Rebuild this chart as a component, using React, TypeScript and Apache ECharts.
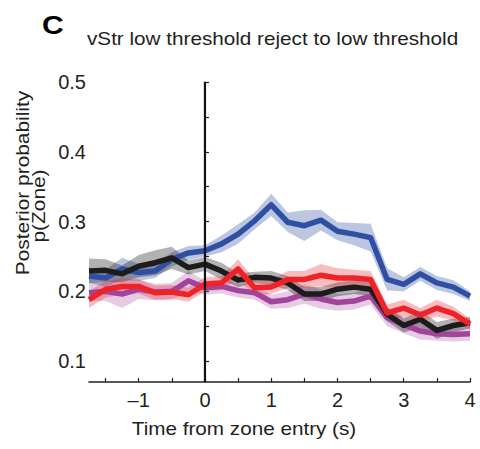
import React, { useEffect, useRef } from "react";
import * as echarts from "echarts";

const times = [-1.75, -1.5, -1.25, -1, -0.75, -0.5, -0.25, 0, 0.25, 0.5, 0.75, 1, 1.25, 1.5, 1.75, 2, 2.25, 2.5, 2.75, 3, 3.25, 3.5, 3.75, 4];

const blueMean = [0.222, 0.219, 0.232, 0.227, 0.229, 0.246, 0.255, 0.258, 0.268, 0.282, 0.301, 0.324, 0.299, 0.294, 0.302, 0.286, 0.282, 0.277, 0.217, 0.21, 0.225, 0.212, 0.206, 0.193];
const blueErr = [0.01, 0.012, 0.016, 0.012, 0.01, 0.01, 0.01, 0.008, 0.012, 0.014, 0.012, 0.016, 0.014, 0.022, 0.015, 0.013, 0.016, 0.02, 0.016, 0.01, 0.01, 0.01, 0.01, 0.007];

const blackMean = [0.229, 0.23, 0.225, 0.236, 0.241, 0.248, 0.234, 0.239, 0.229, 0.216, 0.22, 0.219, 0.212, 0.196, 0.196, 0.203, 0.206, 0.203, 0.167, 0.151, 0.16, 0.144, 0.151, 0.155];
const blackErr = [0.018, 0.016, 0.012, 0.016, 0.018, 0.016, 0.01, 0.01, 0.012, 0.01, 0.008, 0.01, 0.01, 0.01, 0.01, 0.01, 0.01, 0.01, 0.01, 0.01, 0.012, 0.012, 0.01, 0.008];

const redMean = [0.188, 0.203, 0.207, 0.207, 0.198, 0.199, 0.195, 0.21, 0.212, 0.232, 0.205, 0.206, 0.217, 0.217, 0.223, 0.219, 0.219, 0.217, 0.169, 0.176, 0.166, 0.176, 0.168, 0.153];
const redErr = [0.012, 0.012, 0.012, 0.01, 0.01, 0.01, 0.01, 0.01, 0.01, 0.014, 0.012, 0.01, 0.012, 0.012, 0.016, 0.014, 0.012, 0.012, 0.012, 0.012, 0.01, 0.012, 0.01, 0.008];

const magentaMean = [0.198, 0.2, 0.196, 0.203, 0.199, 0.2, 0.215, 0.205, 0.207, 0.201, 0.198, 0.185, 0.188, 0.196, 0.189, 0.184, 0.186, 0.193, 0.162, 0.152, 0.143, 0.139, 0.138, 0.139];
const magentaErr = [0.012, 0.014, 0.02, 0.014, 0.012, 0.012, 0.014, 0.01, 0.01, 0.01, 0.01, 0.01, 0.012, 0.014, 0.014, 0.012, 0.012, 0.012, 0.012, 0.012, 0.012, 0.01, 0.01, 0.01];

const xTicks = [-1.5, -1, -0.5, 0, 0.5, 1, 1.5, 2, 2.5, 3, 3.5, 4];
const xLabels = [-1, 0, 1, 2, 3, 4];
const yTicks = [0.1, 0.15, 0.2, 0.25, 0.3, 0.35, 0.4, 0.45, 0.5];
const yLabels = [0.1, 0.2, 0.3, 0.4, 0.5];

const title = "vStr low threshold reject to low threshold";
const panel = "C";
const xName = "Time from zone entry (s)";
const yName1 = "Posterior probability";
const yName2 = "p(Zone)";

const groups = [
  { name: "magenta", mean: magentaMean, err: magentaErr, line: "#a3449b", band: "rgba(163,68,155,0.28)" },
  { name: "blue", mean: blueMean, err: blueErr, line: "#2f4fa3", band: "rgba(47,79,163,0.32)" },
  { name: "black", mean: blackMean, err: blackErr, line: "#1c1c1c", band: "rgba(0,0,0,0.3)" },
  { name: "red", mean: redMean, err: redErr, line: "#ee232a", band: "rgba(238,35,42,0.3)" },
];

const FONT = "Liberation Sans, Arial, sans-serif";

export default function App() {
  const ref = useRef<HTMLDivElement>(null);
  useEffect(() => {
    document.body.style.margin = "0";
    if (!ref.current) return;
    const chart = echarts.init(ref.current, null, { renderer: "svg" });
    const series: any[] = [];
    groups.forEach((g) => {
      const bandData = times.map((t, i) => [t, g.mean[i] - g.err[i], g.mean[i] + g.err[i]]);
      series.push({
        type: "custom",
        data: bandData,
        encode: { x: 0, y: [1, 2] },
        silent: true,
        z: 1,
        renderItem: (params: any, api: any) => {
          if (params.dataIndex !== 0) return null;
          const upper = bandData.map((d) => api.coord([d[0], d[2]]));
          const lower = bandData.map((d) => api.coord([d[0], d[1]])).reverse();
          return {
            type: "polygon",
            shape: { points: upper.concat(lower) },
            style: { fill: g.band, stroke: "none" },
          };
        },
      });
    });
    groups.forEach((g) => {
      series.push({
        type: "line",
        data: times.map((t, i) => [t, g.mean[i]]),
        symbol: "none",
        lineStyle: { color: g.line, width: 5.5, join: "round" },
        silent: true,
        z: 2,
      });
    });
    series.push({
      type: "line",
      data: [[0, 0.07], [0, 0.5]],
      symbol: "none",
      lineStyle: { color: "#111", width: 2.2 },
      silent: true,
      z: 3,
    });

    chart.setOption({
      animation: false,
      grid: { left: 89, right: 10, top: 82, bottom: 67 },
      xAxis: {
        type: "value",
        min: -1.75,
        max: 4,
        axisLine: { lineStyle: { color: "#231f20", width: 1.5 } },
        axisTick: { inside: true, length: 4, customValues: xTicks, lineStyle: { color: "#231f20", width: 1.2 } },
        axisLabel: {
          customValues: xLabels,
          formatter: (v: number) => (v < 0 ? "\u2013" + Math.abs(v) : String(v)),
          fontSize: 20,
          fontFamily: FONT,
          color: "#231f20",
          margin: 8,
        },
        splitLine: { show: false },
      },
      yAxis: {
        type: "value",
        min: 0.07,
        max: 0.5,
        axisLine: { show: true, lineStyle: { color: "#231f20", width: 1.5 } },
        axisTick: { show: true, inside: true, length: 4, customValues: yTicks, lineStyle: { color: "#231f20", width: 1.2 } },
        axisLabel: {
          customValues: yLabels,
          formatter: (v: number) => v.toFixed(1),
          fontSize: 20,
          fontFamily: FONT,
          color: "#231f20",
          margin: 3,
        },
        splitLine: { show: false },
      },
      graphic: [
        {
          type: "text",
          x: 42,
          y: 25,
          scaleX: 1.2,
          style: { text: panel, font: "bold 25px " + FONT, fill: "#000", textAlign: "left", textVerticalAlign: "middle" },
        },
        {
          type: "text",
          x: 87,
          y: 39,
          scaleX: 1.15,
          style: { text: title, font: "18px " + FONT, fill: "#231f20", textAlign: "left", textVerticalAlign: "middle" },
        },
        {
          type: "text",
          x: 244,
          y: 429,
          scaleX: 1.15,
          style: { text: xName, font: "18px " + FONT, fill: "#231f20", textAlign: "center", textVerticalAlign: "middle" },
        },
        {
          type: "text",
          x: 23,
          y: 183,
          rotation: Math.PI / 2,
          scaleX: 1.16,
          style: { text: yName1, font: "18px " + FONT, fill: "#231f20", textAlign: "center", textVerticalAlign: "middle" },
        },
        {
          type: "text",
          x: 39,
          y: 206,
          rotation: Math.PI / 2,
          scaleX: 1.16,
          style: { text: yName2, font: "18px " + FONT, fill: "#231f20", textAlign: "center", textVerticalAlign: "middle" },
        },
      ],
      series,
    });
    return () => chart.dispose();
  }, []);
  return <div ref={ref} style={{ width: 480, height: 449 }} />;
}
